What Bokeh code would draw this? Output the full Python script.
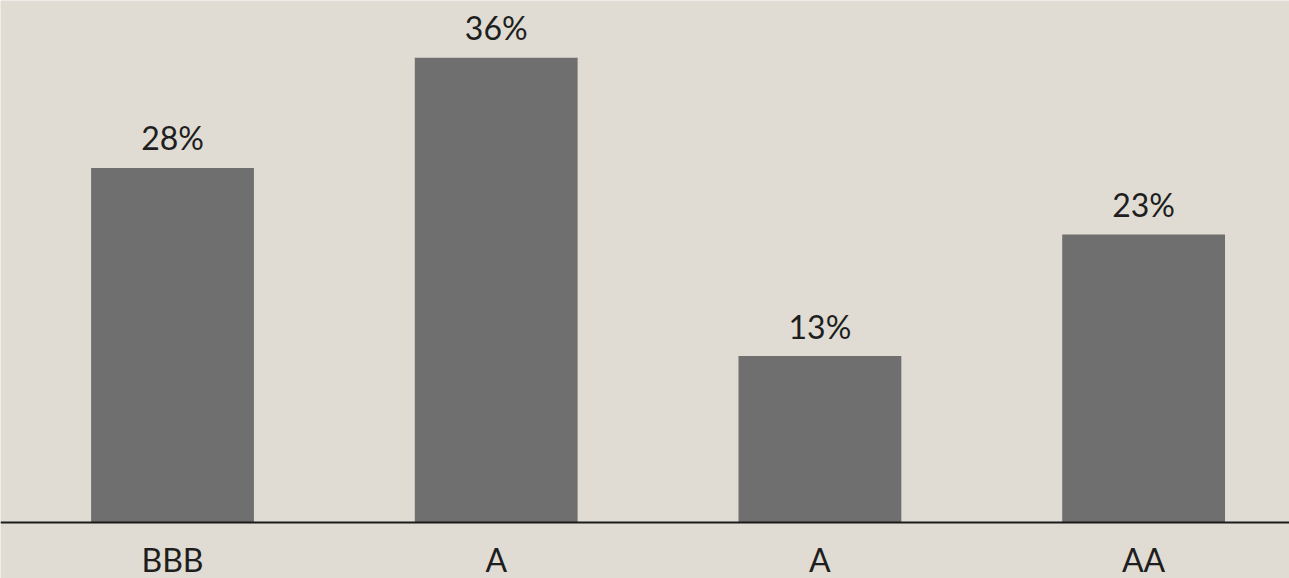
from bokeh.plotting import figure
from bokeh.models import ColumnDataSource, Range1d, Span
from bokeh.core.properties import value
from bokeh.embed import file_html
from bokeh.resources import INLINE

categories = ["BBB", "A", "A", "AA"]
shares = [27.7, 36.3, 13.0, 22.5]
labels = ["28%", "36%", "13%", "23%"]

BG = "#e0dcd3"
BAR = "#6f6f6f"
TXT = "#1e1e1e"
FONT = "Lato"

xs = list(range(len(categories)))
src = ColumnDataSource(dict(x=xs, top=shares, label=labels, cat=categories,
                            base=[0] * len(xs)))

p = figure(width=1289, height=578, output_backend="svg", toolbar_location=None,
           x_range=Range1d(-0.5314, 3.4507), y_range=Range1d(-4.375, 40.78),
           min_border_left=0, min_border_right=0, min_border_top=0, min_border_bottom=0)
p.background_fill_color = BG
p.border_fill_color = BG
p.outline_line_color = None
p.grid.visible = False
p.axis.visible = False

p.vbar(x="x", top="top", bottom=0, width=0.503, source=src, fill_color=BAR, line_color=None)
p.add_layout(Span(location=0, dimension="width", line_color="#1a1a1a", line_width=2))
p.text(x="x", y="top", text="label", source=src, text_align="center", text_baseline="alphabetic",
       y_offset=-30, text_font=value(FONT), text_font_size="32px", text_color=TXT)
p.text(x="x", y="base", text="cat", source=src, text_align="center", text_baseline="alphabetic",
       y_offset=37, text_font=value(FONT), text_font_size="32px", text_color=TXT)

open("out.html", "w").write(file_html(p, INLINE))
